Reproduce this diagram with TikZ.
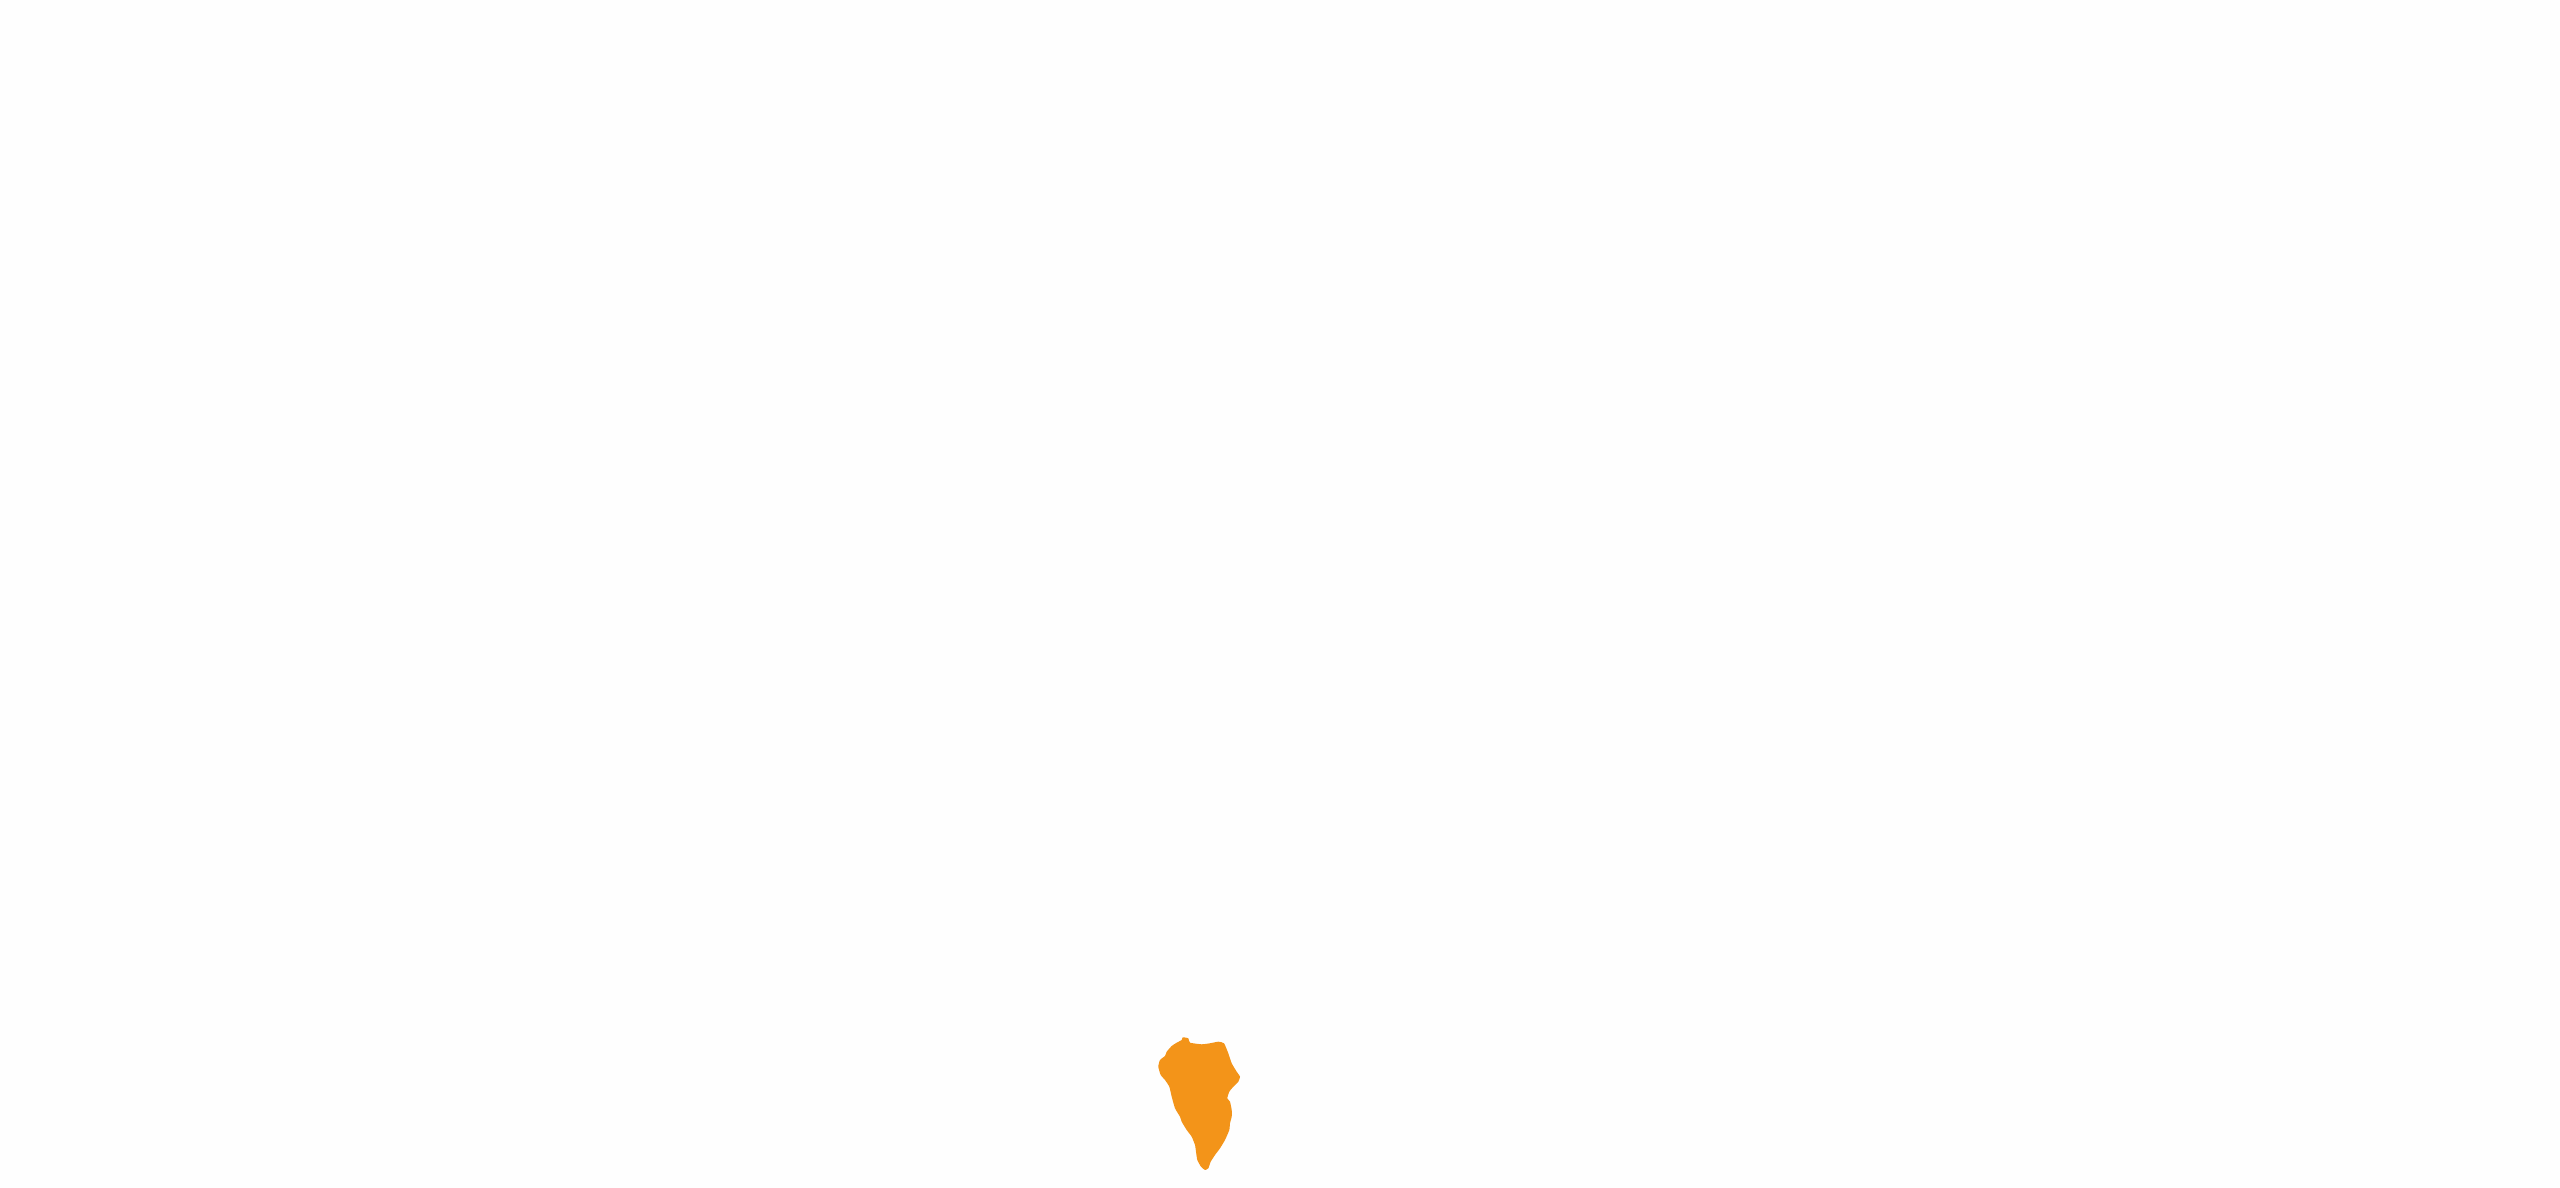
\documentclass[tikz,border=0pt]{standalone}
\usepackage{xcolor}
\usepackage{tikz}
\definecolor{island}{HTML}{F39419}
\definecolor{paper}{HTML}{FEFEFE}
\tikzset{
  islandFill/.style={fill=island, draw=none},
  bg/.style={fill=paper, draw=none}
}
\begin{document}
\begin{tikzpicture}[x=0.1mm, y=0.1mm]
% frame
\fill[bg] (0,0) rectangle (2560,1188);
\useasboundingbox (0,0) rectangle (2560,1188);
% island
\coordinate (I) at (1200,90);
\fill[islandFill] plot[smooth cycle, tension=0.3] coordinates {
  (1182.7,150.7) (1188.3,149.7) (1190,145.3) (1201.7,143.7) (1210,144.7)
  (1218.3,146.3) (1224,144.7) (1228.3,134.7) (1231.7,124.7) (1236.7,116.3)
  (1240,111.3) (1238.3,106.3) (1233.3,101.3) (1229.3,96.3) (1227.3,89.7)
  (1230,86.3) (1231.7,78) (1231.7,71.3) (1230,64.7) (1229.3,58)
  (1225,48) (1220,39.7) (1215,33) (1210.7,26.3) (1208.3,19.7)
  (1205,18) (1201,21.3) (1197.3,28) (1196,36.3) (1195,43)
  (1191.7,51.3) (1186.7,58) (1181.7,66.3) (1180,71.3) (1175,79.7)
  (1171.7,91.3) (1169.3,101.3) (1165,108) (1160.7,113) (1158.3,121.3)
  (1160,128) (1165,132) (1166.7,136.3) (1171.7,142) (1176.7,145.3)
  (1181.7,148)
};
\end{tikzpicture}
\end{document}
